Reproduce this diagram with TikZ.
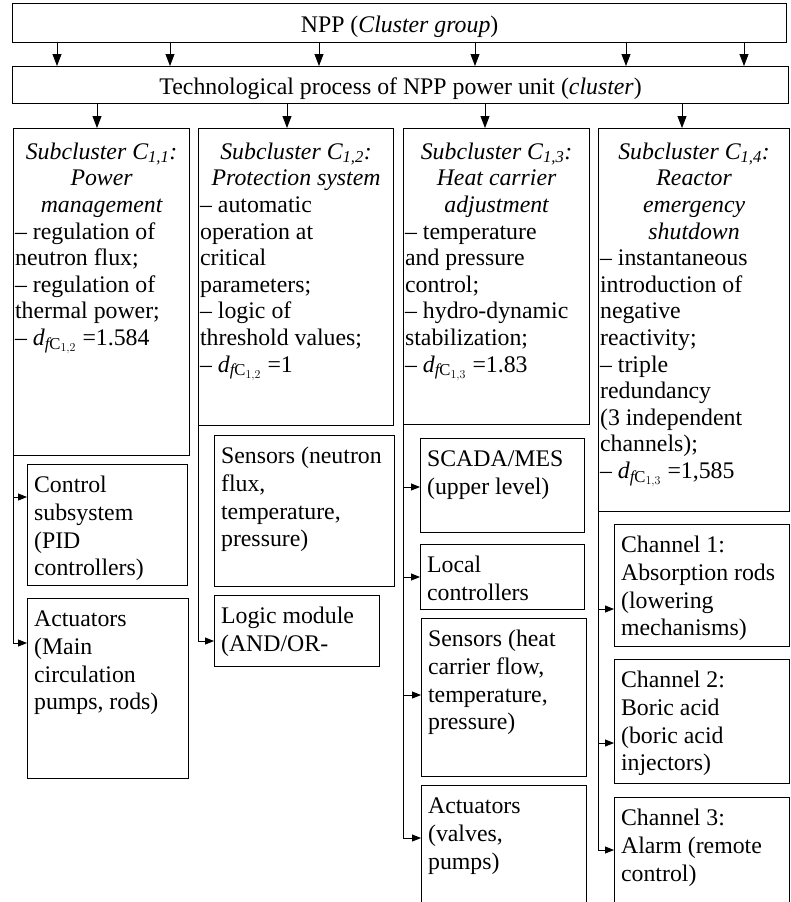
\documentclass[tikz,border=0pt]{standalone}
\usepackage{fontspec}
\setmainfont{Liberation Serif}
\usepackage{amsmath}
\usetikzlibrary{arrows.meta}

% top-aligned text inside a box of fixed size
\newcommand{\cbox}[3]{\parbox[t][#2][t]{#1}{\strut #3}}

\tikzset{
  cell/.style={draw, line width=1.2pt, anchor=north west, inner xsep=1.5pt, inner ysep=12pt,
    font=\fontsize{23.8}{26.6}\selectfont},
  leaf/.style={cell, inner xsep=6.5pt, inner ysep=8.5pt, font=\fontsize{23.8}{27.8}\selectfont},
  bar/.style={draw, line width=1.2pt, anchor=north west, inner sep=0pt, text height=18pt, text depth=0pt,
    font=\fontsize{23.8}{26.6}\selectfont},
  arr/.style={line width=0.8pt, -{Triangle[length=12pt,width=9pt]}},
  harr/.style={line width=0.8pt, -{Triangle[length=9pt,width=7pt]}}
}

\begin{document}
\begin{tikzpicture}[x=1pt, y=-1pt]
  \clip (0,0) rectangle (790,902);
  % Cluster group and cluster
  \node[bar, minimum width=774pt, minimum height=39pt] (npp) at (12,3) {NPP (\textit{Cluster group})};
  \node[bar, minimum width=776pt, minimum height=37pt] (tech) at (12,66) {Technological process of NPP power unit (\textit{cluster})};

  % Subclusters
  \node[cell] (c11) at (13,128) {\cbox{173pt}{303pt}{%
    {\centering\itshape Subcluster C\textsubscript{1,1}:\\ Power\\ management\par}
    -- regulation of\\ neutron flux;\\ -- regulation of\\ thermal power;\\
    -- $\textit{d}_{\textit{f}\mathrm{C}_{1,2}}$ =1.584}};
  \node[cell] (c12) at (198,128) {\cbox{192pt}{273pt}{%
    {\centering\itshape Subcluster C\textsubscript{1,2}:\\ Protection system\par}
    -- automatic\\ operation at\\ critical\\ parameters;\\ -- logic of\\ threshold values;\\
    -- $\textit{d}_{\textit{f}\mathrm{C}_{1,2}}$ =1}};
  \node[cell] (c13) at (403,128) {\cbox{183pt}{272pt}{%
    {\centering\itshape Subcluster C\textsubscript{1,3}:\\ Heat carrier\\ adjustment\par}
    -- temperature\\ and pressure\\ control;\\ -- hydro-dynamic\\ stabilization;\\
    -- $\textit{d}_{\textit{f}\mathrm{C}_{1,3}}$ =1.83}};
  \node[cell] (c14) at (598,128) {\cbox{188pt}{359pt}{%
    {\centering\itshape Subcluster C\textsubscript{1,4}:\\ Reactor\\ emergency\\ shutdown\par}
    -- instantaneous\\ introduction of\\ negative\\ reactivity;\\ -- triple\\ redundancy\\
    (3 independent\\ channels);\\ -- $\textit{d}_{\textit{f}\mathrm{C}_{1,3}}$ =1,585}};

  % Elements of the subclusters
  \node[leaf] (ctrl) at (27,464) {\cbox{147pt}{104pt}{Control\\ subsystem\\ (PID\\ controllers)}};
  \node[leaf] (act1) at (27,598) {\cbox{148pt}{163pt}{Actuators\\ (Main\\ circulation\\ pumps, rods)}};
  \node[leaf] (sens1) at (214,435) {\cbox{167pt}{134pt}{Sensors (neutron\\ flux,\\ temperature,\\ pressure)}};
  \node[leaf] (logic) at (214,595) {\cbox{152pt}{54pt}{Logic module\\ (AND/OR-}};
  \node[leaf] (scada) at (420,438) {\cbox{151pt}{77pt}{SCADA/MES\\ (upper level)}};
  \node[leaf] (local) at (420,544) {\cbox{151pt}{48pt}{Local\\ controllers}};
  \node[leaf] (sens3) at (421,618) {\cbox{152pt}{141pt}{Sensors (heat\\ carrier flow,\\ temperature,\\ pressure)}};
  \node[leaf] (act3) at (421,785) {\cbox{152pt}{104pt}{Actuators\\ (valves,\\ pumps)}};
  \node[leaf] (ch1) at (614,524) {\cbox{162pt}{105pt}{Channel 1:\\ Absorption rods\\ (lowering\\ mechanisms)}};
  \node[leaf] (ch2) at (614,659) {\cbox{162pt}{107pt}{Channel 2:\\ Boric acid\\ (boric acid\\ injectors)}};
  \node[leaf] (ch3) at (614,797) {\cbox{162pt}{92pt}{Channel 3:\\ Alarm (remote\\ control)}};

  % Arrows between levels
  \foreach \x in {57,170,319,475,626,744}
    \draw[arr] (\x,0 |- npp.south) -- (\x,0 |- tech.north);
  \foreach \x/\c in {97/c11,287/c12,485/c13,682/c14}
    \draw[arr] (\x,0 |- tech.south) -- (\x,0 |- \c.north);

  % Branches
  \draw[harr] (c11.south west) |- (ctrl.west |- 0,497);
  \draw[harr] (c11.south west) |- (act1.west |- 0,643);
  \draw[harr] (c12.south west) |- (logic.west |- 0,641);
  \draw[harr] (c13.south west) |- (scada.west |- 0,487);
  \draw[harr] (c13.south west) |- (local.west |- 0,577);
  \draw[harr] (c13.south west) |- (sens3.west |- 0,695);
  \draw[harr] (c13.south west) |- (act3.west |- 0,838);
  \draw[harr] (c14.south west) |- (ch1.west |- 0,609);
  \draw[harr] (c14.south west) |- (ch2.west |- 0,743);
  \draw[harr] (c14.south west) |- (ch3.west |- 0,850);
\end{tikzpicture}
\end{document}
